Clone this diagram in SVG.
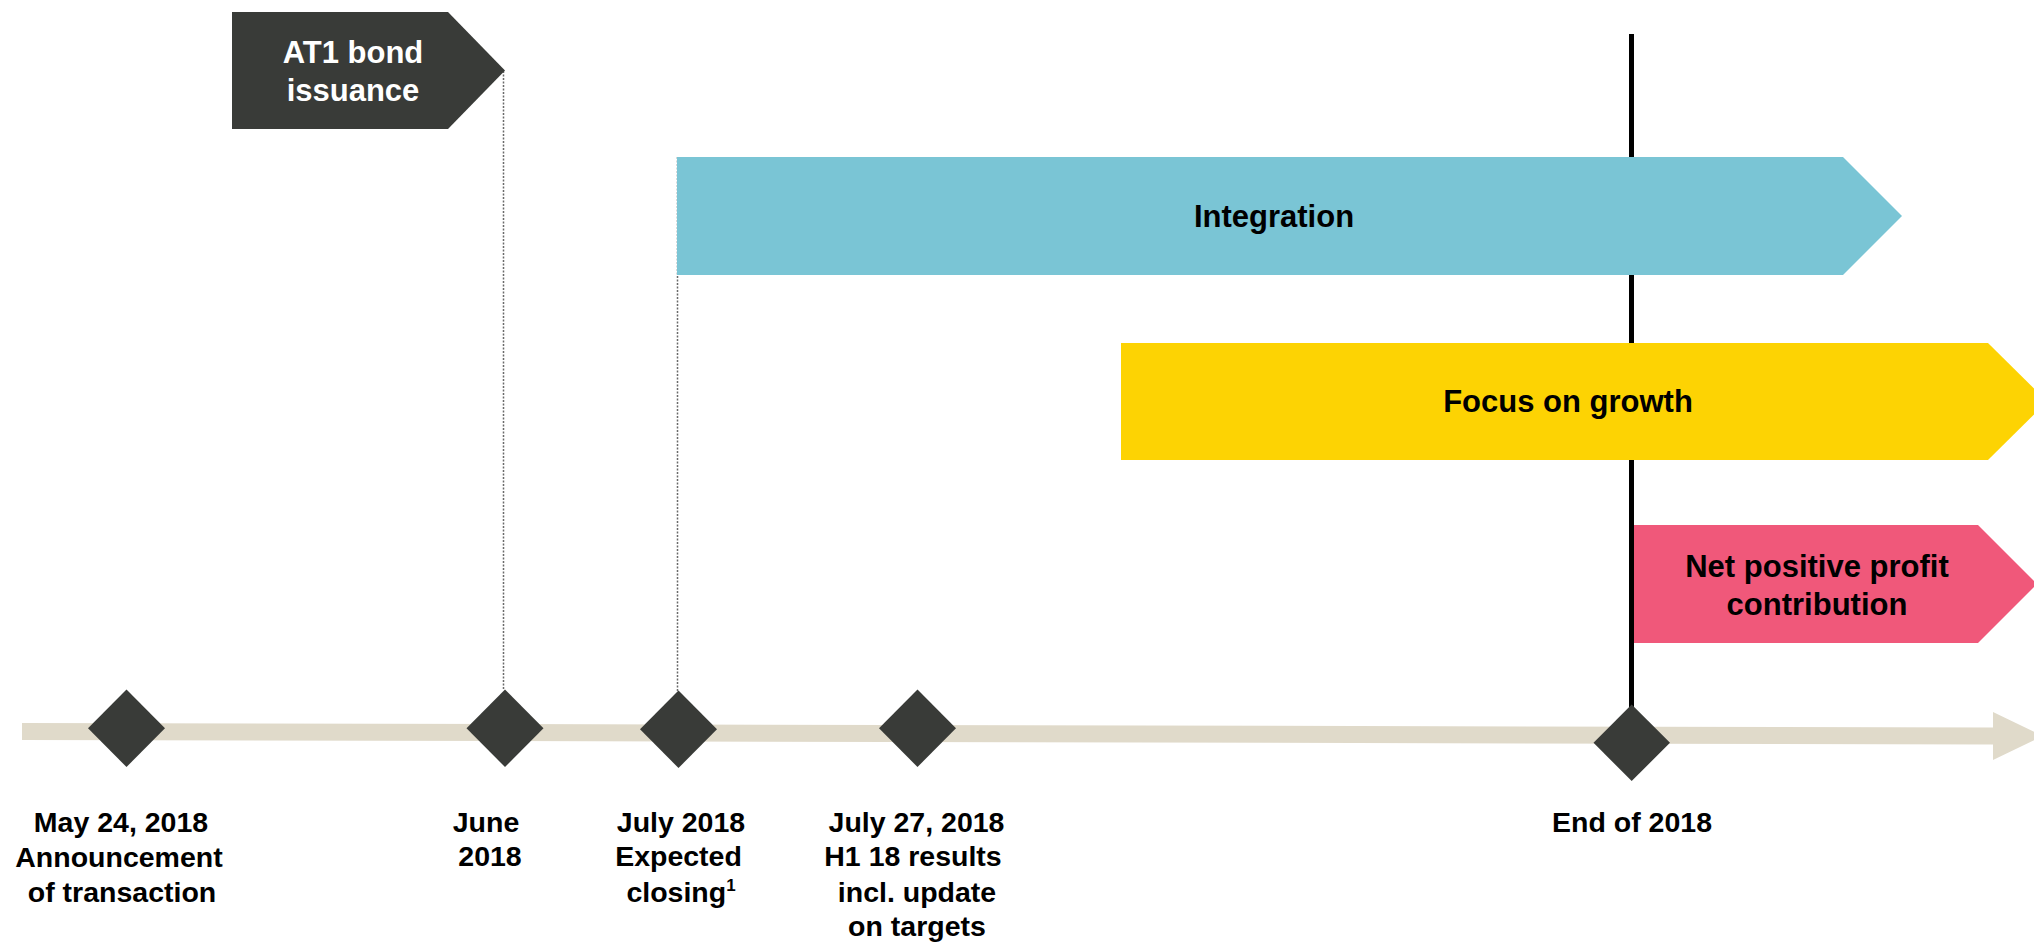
<svg xmlns="http://www.w3.org/2000/svg" width="2034" height="944" viewBox="0 0 2034 944">
<style>
.lbl{font-family:"Liberation Sans",Arial,sans-serif;font-weight:bold;font-size:28.5px;fill:#000;text-anchor:middle}
.bar{font-family:"Liberation Sans",Arial,sans-serif;font-weight:bold;font-size:31px;fill:#000;text-anchor:middle}
.dia{fill:#393B38}
.dot{stroke:#6a6a6a;stroke-width:1.5;stroke-dasharray:2 1.5;fill:none}
</style>
<rect width="2034" height="944" fill="#fff"/>
<g id="timeline">
<polygon points="22,723 1993,727.5 1993,712 2043,736 1993,760 1993,744.5 22,740" fill="#E0DACA"/>
</g>
<g id="connectors">
<line class="dot" x1="503.5" y1="71" x2="503.5" y2="690"/>
<line class="dot" x1="677.5" y1="157" x2="677.5" y2="691"/>
<line x1="1631.5" y1="34" x2="1631.5" y2="720" stroke="#000" stroke-width="5"/>
</g>
<g id="at1">
<polygon points="232,12 448,12 505,70.5 448,129 232,129" fill="#393B38"/>
<text class="bar" fill="#fff" style="fill:#fff" x="353" y="63">AT1 bond</text>
<text class="bar" style="fill:#fff" x="353" y="101">issuance</text>
</g>
<g id="integration">
<polygon points="677,157 1843,157 1902,216 1843,275 677,275" fill="#7AC5D5"/>
<text class="bar" x="1274" y="227">Integration</text>
</g>
<g id="growth">
<polygon points="1121,343 1988,343 2047,401.5 1988,460 1121,460" fill="#FDD303"/>
<text class="bar" x="1568" y="411.5">Focus on growth</text>
</g>
<g id="profit">
<polygon points="1634,525 1978,525 2037,584 1978,643 1634,643" fill="#F0587A"/>
<text class="bar" x="1817" y="577">Net positive profit</text>
<text class="bar" x="1817" y="615">contribution</text>
</g>
<g id="m1">
<polygon class="dia" points="126.5,689.5 165,728.3 126.5,767 88,728.3"/>
<text class="lbl" x="121" y="831.5">May 24, 2018</text>
<text class="lbl" x="119" y="867">Announcement</text>
<text class="lbl" x="122" y="901.5">of transaction</text>
</g>
<g id="m2">
<polygon class="dia" points="505,689.5 543.5,728.3 505,767 466.5,728.3"/>
<text class="lbl" x="486" y="831.5">June</text>
<text class="lbl" x="490" y="866">2018</text>
</g>
<g id="m3">
<polygon class="dia" points="678.5,690.5 717,729.3 678.5,768 640,729.3"/>
<text class="lbl" x="681" y="831.5">July 2018</text>
<text class="lbl" x="678.5" y="866">Expected</text>
<text class="lbl" x="681" y="901.5">closing<tspan font-size="17" dy="-11">1</tspan></text>
</g>
<g id="m4">
<polygon class="dia" points="917.5,689.5 956,728.3 917.5,767 879,728.3"/>
<text class="lbl" x="916.5" y="831.5">July 27, 2018</text>
<text class="lbl" x="913" y="866">H1 18 results</text>
<text class="lbl" x="917" y="901.5">incl. update</text>
<text class="lbl" x="917" y="935.5">on targets</text>
</g>
<g id="m5">
<polygon class="dia" points="1631.7,704.5 1670,742.8 1631.7,781 1593.5,742.8"/>
<text class="lbl" x="1632" y="831.5">End of 2018</text>
</g>
</svg>
